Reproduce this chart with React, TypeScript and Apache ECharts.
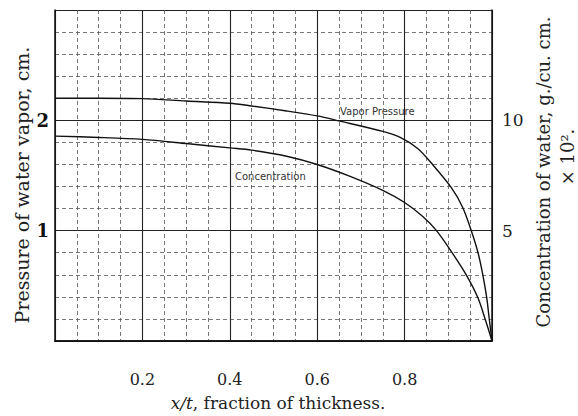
import React, { useEffect, useRef } from "react";
import * as echarts from "echarts";

const xTickLabels = ["0.2", "0.4", "0.6", "0.8"];
const leftTickLabels = ["1", "2"];
const rightTickLabels = ["5", "10"];

const vaporX = [0, 0.1, 0.2, 0.3, 0.4, 0.45, 0.53, 0.6, 0.65, 0.75, 0.79, 0.83, 0.864, 0.907, 0.933, 0.953, 0.968, 0.979, 0.988, 0.994, 1.0];
const vaporY = [2.2, 2.2, 2.197, 2.175, 2.155, 2.13, 2.085, 2.04, 1.995, 1.9, 1.845, 1.745, 1.6, 1.39, 1.21, 0.995, 0.8, 0.6, 0.39, 0.19, 0];

const concX = [0, 0.1, 0.2, 0.3, 0.4, 0.45, 0.53, 0.6, 0.674, 0.75, 0.8, 0.841, 0.873, 0.907, 0.941, 0.968, 0.985, 1.0];
const concY = [1.857, 1.845, 1.827, 1.79, 1.75, 1.73, 1.675, 1.6, 1.494, 1.365, 1.255, 1.13, 1.0, 0.81, 0.6, 0.39, 0.19, 0];

const SERIF = "'DejaVu Serif', 'Liberation Serif', serif";
const SANS = "'DejaVu Sans', sans-serif";

export default function App() {
  const ref = useRef<HTMLDivElement>(null);
  useEffect(() => {
    if (!ref.current) return;
    const chart = echarts.init(ref.current, null, { renderer: "svg" });
    const near = (v: number, s: string[]) => {
      const r = Math.round(v * 100) / 100;
      const hit = s.find((t) => Math.abs(parseFloat(t) - r) < 1e-6);
      return hit ?? "";
    };
    const dashed = { show: true, lineStyle: { color: "#555", width: 0.8, type: [4, 3] as any } };
    const solid = { show: true, lineStyle: { color: "#222", width: 1.1, type: "solid" as any } };
    chart.setOption({
      animation: false,
      backgroundColor: "#fff",
      grid: { left: 55, right: 86, top: 10, bottom: 75, containLabel: false },
      xAxis: [
        {
          type: "value", min: 0, max: 1, interval: 0.05, position: "bottom",
          axisLine: { show: true, lineStyle: { color: "#111", width: 1.5 } },
          axisTick: { show: false },
          axisLabel: {
            show: true, margin: 30, color: "#222", fontFamily: SERIF, fontSize: 16,
            formatter: (v: number) => near(v, xTickLabels),
          },
          splitLine: dashed,
        },
        {
          type: "value", min: 0, max: 1, interval: 0.2, position: "top",
          axisLine: { show: true, lineStyle: { color: "#111", width: 1.5 } },
          axisTick: { show: false }, axisLabel: { show: false },
          splitLine: solid,
        },
      ],
      yAxis: [
        {
          type: "value", min: 0, max: 3, interval: 0.2, position: "left",
          axisLine: { show: true, lineStyle: { color: "#111", width: 1.5 } },
          axisTick: { show: false }, axisLabel: { show: false },
          splitLine: dashed,
        },
        {
          type: "value", min: 0, max: 3, interval: 1, position: "left",
          axisLine: { show: false }, axisTick: { show: false },
          axisLabel: {
            show: true, margin: 6, color: "#111", fontFamily: SERIF, fontSize: 18, fontWeight: "bold",
            formatter: (v: number) => near(v, leftTickLabels),
          },
          splitLine: solid,
        },
        {
          type: "value", min: 0, max: 15, interval: 5, position: "right",
          axisLine: { show: true, lineStyle: { color: "#111", width: 1.5 } },
          axisTick: { show: false },
          axisLabel: {
            show: true, margin: 10, color: "#222", fontFamily: SERIF, fontSize: 17,
            formatter: (v: number) => near(v, rightTickLabels),
          },
          splitLine: { show: false },
        },
      ],
      series: [
        {
          name: "Vapor Pressure", type: "line", xAxisIndex: 0, yAxisIndex: 0,
          data: vaporX.map((x, i) => [x, vaporY[i]]),
          smooth: 0.3, showSymbol: false,
          lineStyle: { color: "#111", width: 1.4 },
        },
        {
          name: "Concentration", type: "line", xAxisIndex: 0, yAxisIndex: 0,
          data: concX.map((x, i) => [x, concY[i]]),
          smooth: 0.3, showSymbol: false,
          lineStyle: { color: "#111", width: 1.4 },
        },
      ],
      graphic: [
        {
          type: "text", left: 340, top: 106,
          style: { text: "Vapor Pressure", font: `10px ${SANS}`, fill: "#333" },
        },
        {
          type: "text", left: 235, top: 171,
          style: { text: "Concentration", font: `10px ${SANS}`, fill: "#333" },
        },
        {
          type: "text", x: 22, y: 185, rotation: Math.PI / 2,
          style: { text: "Pressure of water vapor, cm.", font: `19px ${SERIF}`, fill: "#222", align: "center", verticalAlign: "middle" },
        },
        {
          type: "text", x: 543, y: 172, rotation: Math.PI / 2,
          style: { text: "Concentration of water, g./cu. cm.", font: `18px ${SERIF}`, fill: "#222", align: "center", verticalAlign: "middle" },
        },
        {
          type: "text", x: 567, y: 157, rotation: Math.PI / 2,
          style: { text: "× 10².", font: `18px ${SERIF}`, fill: "#222", align: "center", verticalAlign: "middle" },
        },
        {
          type: "text", x: 278, y: 403,
          style: {
            text: "{i|x/t}, fraction of thickness.",
            font: `17px ${SERIF}`, fill: "#222", align: "center", verticalAlign: "middle",
            rich: { i: { fontStyle: "italic", fontFamily: SERIF, fontSize: 17, fill: "#222" } },
          },
        },
      ],
    });
    return () => chart.dispose();
  }, []);
  return <div ref={ref} style={{ position: "fixed", left: 0, top: 0, width: 578, height: 416 }} />;
}
